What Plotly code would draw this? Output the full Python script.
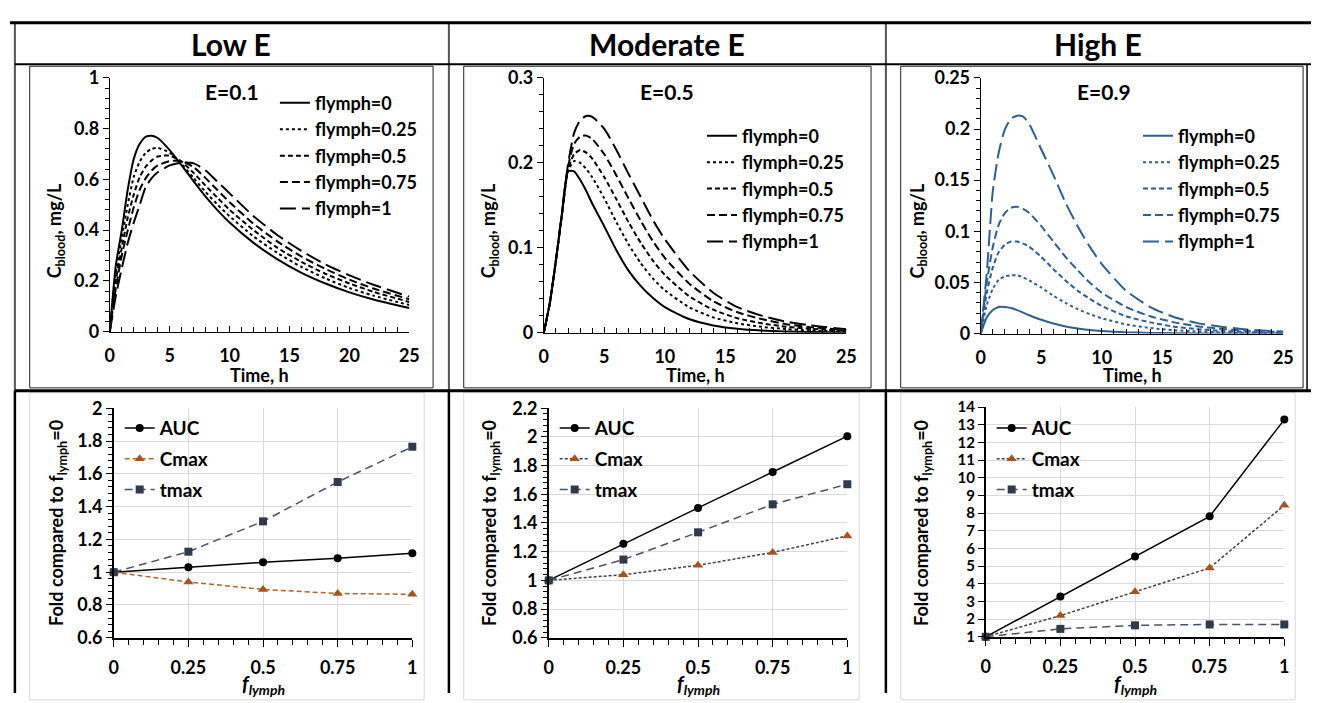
import plotly.graph_objects as go

W, H = 1321, 703
FONT = "Lato"

# ---------------- data ----------------
time_h = [0, 0.5, 1, 1.5, 2, 2.5, 3, 3.5, 4, 5, 6, 7, 8, 9, 10, 12, 14, 16, 18, 20, 22, 25]
flymph_labels = ["flymph=0", "flymph=0.25", "flymph=0.5", "flymph=0.75", "flymph=1"]

# Low E (E=0.1)
low_f0   = [0, 0.26, 0.40, 0.56, 0.68, 0.74, 0.768, 0.772, 0.763, 0.715, 0.655, 0.592, 0.532, 0.478, 0.430, 0.350, 0.285, 0.232, 0.190, 0.155, 0.127, 0.093]
low_f025 = [0, 0.23, 0.37, 0.50, 0.61, 0.67, 0.705, 0.720, 0.724, 0.705, 0.660, 0.605, 0.550, 0.500, 0.455, 0.375, 0.310, 0.255, 0.210, 0.172, 0.142, 0.105]
low_f05  = [0, 0.20, 0.33, 0.45, 0.54, 0.61, 0.650, 0.675, 0.690, 0.694, 0.670, 0.625, 0.575, 0.527, 0.480, 0.400, 0.330, 0.275, 0.228, 0.190, 0.157, 0.117]
low_f075 = [0, 0.17, 0.30, 0.40, 0.49, 0.56, 0.605, 0.635, 0.655, 0.672, 0.672, 0.648, 0.605, 0.557, 0.510, 0.425, 0.355, 0.296, 0.247, 0.205, 0.170, 0.128]
low_f1   = [0, 0.14, 0.25, 0.35, 0.43, 0.50, 0.570, 0.605, 0.628, 0.655, 0.666, 0.663, 0.635, 0.590, 0.545, 0.455, 0.380, 0.318, 0.265, 0.222, 0.185, 0.138]

# Moderate E (E=0.5)
mod_f0   = [0, 0.035, 0.085, 0.14, 0.190, 0.190, 0.180, 0.167, 0.152, 0.125, 0.097, 0.073, 0.055, 0.041, 0.030, 0.016, 0.0085, 0.0045, 0.0024, 0.0013, 0.0007, 0.0003]
mod_f025 = [0, 0.035, 0.085, 0.14, 0.190, 0.202, 0.200, 0.193, 0.183, 0.158, 0.130, 0.104, 0.082, 0.064, 0.050, 0.030, 0.018, 0.011, 0.0068, 0.0042, 0.0026, 0.0012]
mod_f05  = [0, 0.035, 0.085, 0.14, 0.192, 0.210, 0.215, 0.212, 0.205, 0.183, 0.157, 0.130, 0.106, 0.085, 0.068, 0.043, 0.027, 0.017, 0.011, 0.007, 0.0045, 0.0022]
mod_f075 = [0, 0.035, 0.085, 0.14, 0.195, 0.222, 0.231, 0.232, 0.228, 0.210, 0.185, 0.158, 0.132, 0.108, 0.088, 0.058, 0.037, 0.024, 0.016, 0.010, 0.0065, 0.003]
mod_f1   = [0, 0.035, 0.085, 0.14, 0.198, 0.235, 0.250, 0.255, 0.254, 0.240, 0.215, 0.187, 0.160, 0.133, 0.110, 0.073, 0.047, 0.030, 0.020, 0.013, 0.0085, 0.004]

# High E (E=0.9)
high_f0   = [0, 0.016, 0.023, 0.026, 0.026, 0.025, 0.023, 0.0205, 0.018, 0.0135, 0.0098, 0.007, 0.005, 0.0036, 0.0026, 0.0013, 0.0007, 0.0004, 0.0002, 0.0001, 0.00005, 0]
high_f025 = [0, 0.028, 0.044, 0.053, 0.056, 0.057, 0.057, 0.055, 0.052, 0.045, 0.037, 0.030, 0.024, 0.019, 0.015, 0.009, 0.0055, 0.0033, 0.002, 0.0012, 0.0007, 0.0003]
high_f05  = [0, 0.040, 0.065, 0.080, 0.087, 0.090, 0.090, 0.088, 0.085, 0.075, 0.063, 0.052, 0.042, 0.034, 0.027, 0.017, 0.011, 0.0068, 0.0042, 0.0026, 0.0016, 0.0008]
high_f075 = [0, 0.050, 0.085, 0.107, 0.118, 0.123, 0.124, 0.122, 0.118, 0.105, 0.090, 0.075, 0.062, 0.050, 0.040, 0.026, 0.017, 0.011, 0.007, 0.0045, 0.0028, 0.0014]
high_f1   = [0, 0.060, 0.140, 0.178, 0.200, 0.210, 0.213, 0.212, 0.205, 0.180, 0.155, 0.128, 0.105, 0.085, 0.068, 0.042, 0.026, 0.016, 0.010, 0.0065, 0.004, 0.002]

# Fold change vs f_lymph
f_lymph = [0, 0.25, 0.5, 0.75, 1]
f_lymph_text = ["0", "0.25", "0.5", "0.75", "1"]
low_auc   = [1, 1.03, 1.06, 1.085, 1.115]
low_cmax  = [1, 0.94, 0.895, 0.87, 0.865]
low_tmax  = [1, 1.125, 1.31, 1.55, 1.765]
mod_auc   = [1, 1.255, 1.505, 1.755, 2.005]
mod_cmax  = [1, 1.04, 1.105, 1.195, 1.31]
mod_tmax  = [1, 1.145, 1.335, 1.53, 1.67]
high_auc  = [1, 3.28, 5.55, 7.82, 13.3]
high_cmax = [1, 2.2, 3.55, 4.9, 8.45]
high_tmax = [1, 1.45, 1.65, 1.7, 1.7]

headers = ["Low E", "Moderate E", "High E"]
e_labels = ["E=0.1", "E=0.5", "E=0.9"]

# ---------------- helpers ----------------
def px(x):
    return x / W

def py(y):
    return 1 - y / H

fig = go.Figure()

dashes = ["solid", "dot", "5px,3px", "8px,4px", "16px,6px"]

top_sets = [
    (low_f0, low_f025, low_f05, low_f075, low_f1),
    (mod_f0, mod_f025, mod_f05, mod_f075, mod_f1),
    (high_f0, high_f025, high_f05, high_f075, high_f1),
]
top_colors = ["#000000", "#000000", "#2F5F8F"]

for i, series in enumerate(top_sets):
    ax = "" if i == 0 else str(i + 1)
    leg = "legend" if i == 0 else "legend" + str(i + 1)
    for j, vals in enumerate(series):
        fig.add_trace(go.Scatter(
            x=time_h, y=vals, mode="lines", name=flymph_labels[j],
            line=dict(color=top_colors[i], width=2, dash=dashes[j], shape="spline", smoothing=0.6),
            xaxis="x" + ax, yaxis="y" + ax, legend=leg, legendgroup=f"t{i}_{j}",
            hoverinfo="skip",
        ))

bot_sets = [
    (low_auc, low_cmax, low_tmax),
    (mod_auc, mod_cmax, mod_tmax),
    (high_auc, high_cmax, high_tmax),
]
for i, (auc, cmax, tmax) in enumerate(bot_sets):
    ax = str(i + 4)
    leg = "legend" + str(i + 4)
    cm_line = "#B5642A" if i == 0 else "#404040"
    cm_dash = "5px,3px" if i == 0 else "3px,2px"
    fig.add_trace(go.Scatter(
        x=f_lymph, y=auc, mode="lines+markers", name="AUC",
        line=dict(color="black", width=1.5),
        marker=dict(symbol="circle", size=8, color="black"),
        xaxis="x" + ax, yaxis="y" + ax, legend=leg, legendgroup=f"b{i}_0", cliponaxis=False,
    ))
    fig.add_trace(go.Scatter(
        x=f_lymph, y=cmax, mode="lines+markers", name="Cmax",
        line=dict(color=cm_line, width=1.5, dash=cm_dash),
        marker=dict(symbol="triangle-up", size=9, color="#A5521E"),
        xaxis="x" + ax, yaxis="y" + ax, legend=leg, legendgroup=f"b{i}_1", cliponaxis=False,
    ))
    fig.add_trace(go.Scatter(
        x=f_lymph, y=tmax, mode="lines+markers", name="tmax",
        line=dict(color="#44546A", width=1.5, dash="8px,5px"),
        marker=dict(symbol="square", size=8, color="#2F3B4B"),
        xaxis="x" + ax, yaxis="y" + ax, legend=leg, legendgroup=f"b{i}_2", cliponaxis=False,
    ))

tickfont = dict(family=FONT, size=18, color="black", weight="bold")
tickfont_small = dict(family=FONT, size=15, color="black", weight="bold")

# top chart axes: (x0, x1, ytop, ybottom, ymax, dtick, minor)
top_geo = [
    (106, 409, 68, 330, 1.0, 0.2, 0.04),
    (545, 851, 68, 331, 0.3, 0.1, 0.02),
    (987, 1293, 68, 332, 0.25, 0.05, 0.01),
]
layout_axes = {}
for i, (x0, x1, yt, yb, ymax, dt, mn) in enumerate(top_geo):
    n = "" if i == 0 else str(i + 1)
    layout_axes["xaxis" + n] = dict(
        domain=[px(x0), px(x1)], anchor="y" + n, range=[0, 25], dtick=5, tick0=0,
        showline=True, linecolor="#000", linewidth=1.2, ticks="inside", ticklen=6,
        tickcolor="#000", tickfont=tickfont, showgrid=False, zeroline=False,
        ticklabelstandoff=8,
        minor=dict(dtick=1, ticks="inside", ticklen=5, tickcolor="#000", showgrid=False),
    )
    layout_axes["yaxis" + n] = dict(
        domain=[py(yb), py(yt)], anchor="x" + n, range=[0, ymax], dtick=dt, tick0=0,
        showline=True, linecolor="#000", linewidth=1.2, ticks="outside", ticklen=6,
        tickcolor="#000", tickfont=tickfont, showgrid=False, zeroline=False,
        minor=dict(dtick=mn, ticks="outside", ticklen=4, tickcolor="#000", showgrid=False),
    )

bot_geo = [
    (110, 412, 409, 646, 0.6, 2.0, 0.2, 0.04),
    (550, 852, 409, 646, 0.6, 2.2, 0.2, 0.04),
    (992, 1294, 408, 645, 1, 14, 1, None),
]
for i, (x0, x1, yt, yb, ymin, ymax, dt, mn) in enumerate(bot_geo):
    n = str(i + 4)
    layout_axes["xaxis" + n] = dict(
        domain=[px(x0), px(x1)], anchor="y" + n, range=[0, 1],
        tickvals=f_lymph, ticktext=f_lymph_text,
        showline=True, linecolor="#000", linewidth=1.5, ticks="outside", ticklen=7,
        tickcolor="#000", tickfont=tickfont, showgrid=True, gridcolor="#D9D9D9", gridwidth=1,
        zeroline=False, ticklabelstandoff=6,
        minor=dict(dtick=0.05, tick0=0, ticks="outside", ticklen=5, tickcolor="#000", showgrid=False),
    )
    ydict = dict(
        domain=[py(yb), py(yt)], anchor="x" + n, range=[ymin, ymax], dtick=dt, tick0=0,
        showline=True, linecolor="#000", linewidth=1.5, ticks="outside", ticklen=6,
        tickcolor="#000", tickfont=tickfont if mn else tickfont_small,
        showgrid=True, gridcolor="#D9D9D9", gridwidth=1, zeroline=False,
    )
    if mn:
        ydict["minor"] = dict(dtick=mn, tick0=0, ticks="outside", ticklen=4, tickcolor="#000", showgrid=False)
    layout_axes["yaxis" + n] = ydict

# legends
legfont = dict(family=FONT, size=18, color="black", weight="bold")
legfont_b = dict(family=FONT, size=19, color="black", weight="bold")
legends = {}
top_leg_pos = [(273, 75), (705, 109), (1146, 109)]
for i, (lx, ly) in enumerate(top_leg_pos):
    n = "legend" if i == 0 else "legend" + str(i + 1)
    legends[n] = dict(x=px(lx), y=py(ly), xanchor="left", yanchor="top",
                      bgcolor="rgba(0,0,0,0)", font=legfont, tracegroupgap=0,
                      traceorder="grouped", itemwidth=30)
bot_leg_pos = [(116, 410), (556, 410), (998, 410)]
for i, (lx, ly) in enumerate(bot_leg_pos):
    n = "legend" + str(i + 4)
    legends[n] = dict(x=px(lx), y=py(ly), xanchor="left", yanchor="top",
                      bgcolor="rgba(0,0,0,0)", font=legfont_b, tracegroupgap=3,
                      traceorder="grouped", itemwidth=30)

# annotations
ann = []
for cx, txt in zip([229, 670, 1106], headers):
    ann.append(dict(x=px(cx), y=py(33), xref="paper", yref="paper", text=txt, showarrow=False,
                    font=dict(family=FONT, size=30, color="black", weight="bold"),
                    xanchor="center", yanchor="middle"))
for cx, txt in zip([230, 670, 1112], e_labels):
    ann.append(dict(x=px(cx), y=py(82), xref="paper", yref="paper", text=txt, showarrow=False,
                    font=dict(family=FONT, size=21, color="black", weight="bold"),
                    xanchor="center", yanchor="middle"))
titlefont = dict(family=FONT, size=18, color="black", weight="bold")
for cx in [52, 491, 924]:
    ann.append(dict(x=px(cx), y=py(226), xref="paper", yref="paper",
                    text="C<sub>blood</sub>, mg/L", showarrow=False, textangle=-90,
                    font=titlefont, xanchor="center", yanchor="middle"))
for cx in [257, 698, 1140]:
    ann.append(dict(x=px(cx), y=py(375), xref="paper", yref="paper", text="Time, h",
                    showarrow=False, font=titlefont, xanchor="center", yanchor="middle"))
for cx in [53, 491, 928]:
    ann.append(dict(x=px(cx), y=py(527), xref="paper", yref="paper",
                    text="Fold compared to f<sub>lymph</sub>=0", showarrow=False, textangle=-90,
                    font=titlefont, xanchor="center", yanchor="middle"))
for cx in [261, 701, 1143]:
    ann.append(dict(x=px(cx), y=py(694), xref="paper", yref="paper",
                    text="<i>f<sub>lymph</sub></i>", showarrow=False,
                    font=dict(family=FONT, size=20, color="black", weight="bold"),
                    xanchor="center", yanchor="middle"))

# table / frame shapes
shapes = []
def line(x0, y0, x1, y1, color, width):
    shapes.append(dict(type="line", xref="paper", yref="paper",
                       x0=px(x0), y0=py(y0), x1=px(x1), y1=py(y1),
                       line=dict(color=color, width=width)))

def rect(x0, y0, x1, y1, color, width):
    shapes.append(dict(type="rect", xref="paper", yref="paper",
                       x0=px(x0), y0=py(y0), x1=px(x1), y1=py(y1),
                       line=dict(color=color, width=width), fillcolor="rgba(0,0,0,0)", layer="below"))

rect(25, 56, 433, 388, "#222", 1)
rect(464, 56, 876, 388, "#222", 1)
rect(906, 56, 1313, 388, "#222", 1)
rect(25, 393, 424, 710, "#D9D9D9", 1)
rect(464, 393, 864, 710, "#D9D9D9", 1)
rect(906, 393, 1305, 710, "#D9D9D9", 1)

for xv in [10, 449, 891]:
    line(xv, 11, xv, 391, "#555555", 2)
    line(xv, 391, xv, 703, "#000000", 2.5)
line(1317, 54, 1317, 391, "#000000", 1.5)
line(5, 11, 1321, 11, "#000000", 3)
line(10, 54, 1321, 54, "#000000", 2)
line(10, 391, 1321, 391, "#000000", 3)

fig.update_layout(
    width=W, height=H, margin=dict(l=0, r=0, t=0, b=0),
    paper_bgcolor="white", plot_bgcolor="white",
    font=dict(family=FONT, color="black", weight="bold"),
    showlegend=True, annotations=ann, shapes=shapes,
    **layout_axes, **legends,
)

fig.write_html("out.html")
